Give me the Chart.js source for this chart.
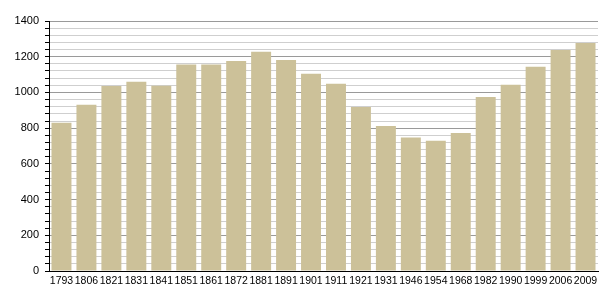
<!DOCTYPE html>
<html>
<head>
<meta charset="utf-8">
<script src="https://cdn.jsdelivr.net/npm/chart.js@4/dist/chart.umd.min.js"></script>
<style>
  html, body { margin: 0; padding: 0; background: #fff; }
  #wrap { width: 605px; height: 300px; }
</style>
</head>
<body>
<div id="wrap"><canvas id="myChart"></canvas></div>
<script>
const years = ['1793', '1806', '1821', '1831', '1841', '1851', '1861', '1872', '1881', '1891', '1901',
  '1911', '1921', '1931', '1946', '1954', '1968', '1982', '1990', '1999', '2006', '2009'];
const population = [830, 931, 1036, 1060, 1038, 1157, 1157, 1176, 1228, 1182, 1105,
  1049, 918, 812, 747, 730, 773, 974, 1043, 1144, 1238, 1277];
const yMax = 1400;

const barColor = '#ccc199';

const ctx = document.getElementById('myChart').getContext('2d');
const myChart = new Chart(ctx, {
  type: 'bar',
  data: {
    labels: years,
    datasets: [{
      label: 'Population',
      data: population,
      backgroundColor: barColor,
      borderWidth: 0,
      barPercentage: 0.8,
      categoryPercentage: 1
    }]
  },
  options: {
    responsive: true,
    maintainAspectRatio: false,
    animation: false,
    layout: { padding: { top: 21, right: 7, left: 0, bottom: 0 } },
    scales: {
      x: {
        afterFit: s => { s.height = 29; },
        grid: { display: false, drawTicks: false, tickLength: 0 },
        border: { color: '#000', width: 1 },
        ticks: {
          autoSkip: false,
          maxRotation: 0,
          padding: 4,
          color: '#000',
          font: { family: 'Liberation Sans', size: 10.5 }
        }
      },
      y: {
        min: 0,
        max: yMax,
        afterFit: s => { s.width = 49; },
        border: { color: '#000', width: 1 },
        grid: {
          color: c => (c.tick && c.tick.value % 200 === 0) ? '#9a9a9a' : '#cfcfcf',
          tickColor: '#000',
          tickLength: 4
        },
        ticks: {
          stepSize: 40,
          autoSkip: false,
          padding: 6,
          color: '#000',
          font: { family: 'Liberation Sans', size: 11 },
          callback: v => (v % 200 === 0 ? v : '')
        }
      }
    },
    plugins: {
      legend: { display: false },
      tooltip: { enabled: false }
    }
  }
});
</script>
</body>
</html>
